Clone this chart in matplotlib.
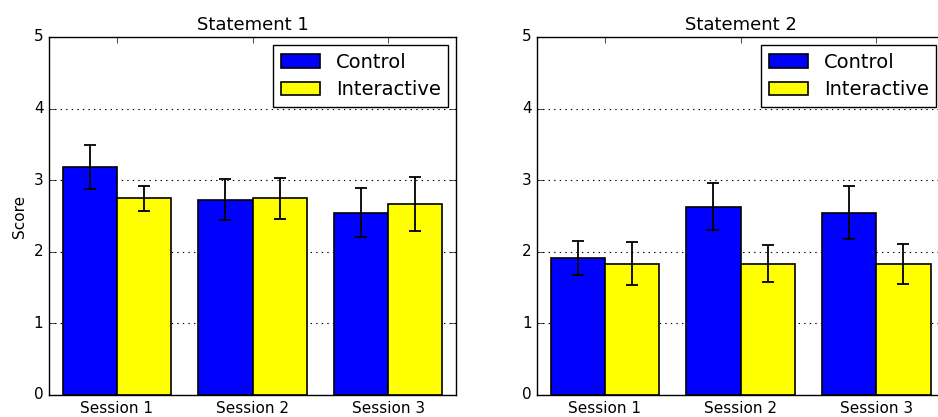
import numpy as np
import matplotlib
matplotlib.use('Agg')
import matplotlib.pyplot as plt

plt.style.use('classic')

sessions = ['Session 1', 'Session 2', 'Session 3']
groups = ['Control', 'Interactive']

s1_control = [3.18, 2.73, 2.545]
s1_control_err = [0.31, 0.29, 0.345]
s1_inter = [2.745, 2.745, 2.67]
s1_inter_err = [0.17, 0.29, 0.375]

s2_control = [1.91, 2.63, 2.545]
s2_control_err = [0.24, 0.325, 0.37]
s2_inter = [1.835, 1.835, 1.835]
s2_inter_err = [0.305, 0.26, 0.28]

fig = plt.figure(figsize=(9.38, 4.17), dpi=100, facecolor='white')
ax1 = fig.add_axes([0.0522, 0.0528, 0.434, 0.8585])
ax2 = fig.add_axes([0.5725, 0.0528, 0.434, 0.8585])

width = 0.4
x = np.arange(len(sessions))

panels = [
    (ax1, 'Statement 1', s1_control, s1_control_err, s1_inter, s1_inter_err),
    (ax2, 'Statement 2', s2_control, s2_control_err, s2_inter, s2_inter_err),
]

for ax, title, c, ce, it, ie in panels:
    ax.bar(x, c, width, align='edge', color='#0000ff', edgecolor='black',
           linewidth=1.2, label=groups[0])
    ax.bar(x + width, it, width, align='edge', color='#ffff00', edgecolor='black',
           linewidth=1.2, label=groups[1])
    ax.errorbar(x + width / 2, c, yerr=ce, fmt='none', ecolor='black',
                elinewidth=1.3, capsize=4, capthick=1.3)
    ax.errorbar(x + 1.5 * width, it, yerr=ie, fmt='none', ecolor='black',
                elinewidth=1.3, capsize=4, capthick=1.3)
    ax.set_xlim(-0.1, 2.9)
    ax.set_ylim(0, 5)
    ax.set_xticks(x + width)
    ax.set_xticklabels(sessions, fontsize=11)
    ax.set_yticks([0, 1, 2, 3, 4, 5])
    ax.tick_params(axis='y', labelsize=11)
    ax.yaxis.grid(True, linestyle=':', color='black', linewidth=0.8)
    ax.set_axisbelow(True)
    ax.set_title(title, fontsize=13)
    ax.legend(loc='upper right', fontsize=14, fancybox=False, handlelength=2.0,
              handletextpad=0.8, borderpad=0.4, labelspacing=0.45,
              borderaxespad=0.4)

ax1.set_ylabel('Score', fontsize=11)

fig.savefig('out.png', dpi=100, facecolor='white')
